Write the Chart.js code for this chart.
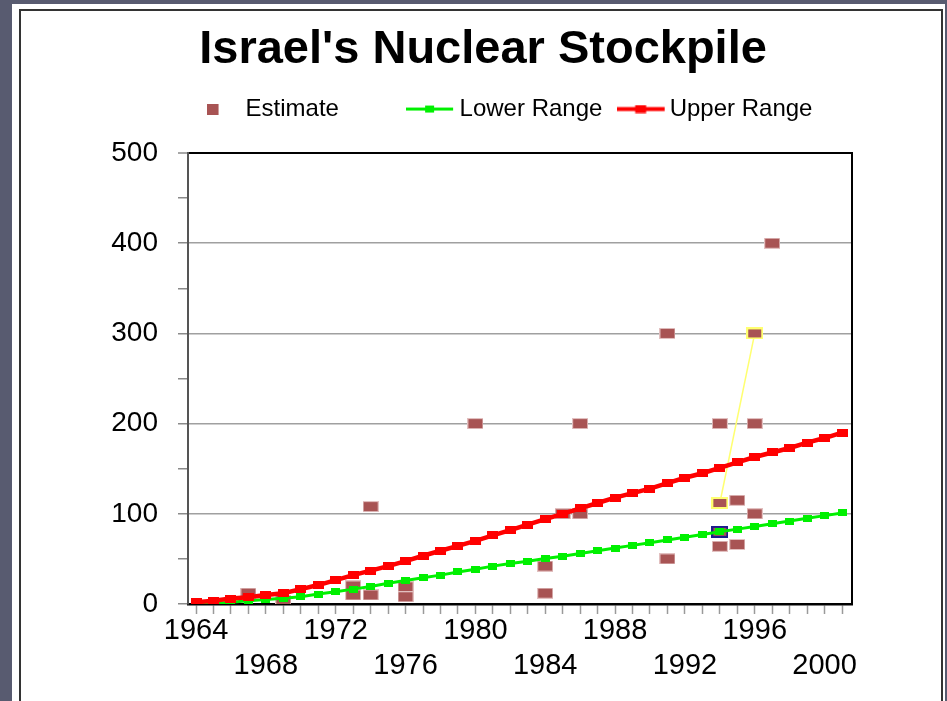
<!DOCTYPE html>
<html>
<head>
<meta charset="utf-8">
<title>Israel's Nuclear Stockpile</title>
<script src="https://cdn.jsdelivr.net/npm/chart.js@4.4.1/dist/chart.umd.min.js"></script>
<style>
  html, body { margin: 0; padding: 0; }
  body { width: 947px; height: 701px; background: #585b70; position: relative; overflow: hidden; }
  #panel { position: absolute; left: 12px; top: 4px; width: 933px; height: 710px; background: #fff; }
  #frame { position: absolute; left: 19px; top: 9px; width: 920px; height: 710px; border: 2px solid #333; border-bottom: none; }
  #c { position: absolute; left: 0; top: 0; }
</style>
</head>
<body>
<div id="panel"></div>
<div id="frame"></div>
<canvas id="c" width="947" height="701"></canvas>
<script>
const FONT = "'Liberation Sans', Arial, sans-serif";

// yearly range lines
const years = [1964, 1965, 1966, 1967, 1968, 1969, 1970, 1971, 1972, 1973, 1974, 1975, 1976,
  1977, 1978, 1979, 1980, 1981, 1982, 1983, 1984, 1985, 1986, 1987, 1988, 1989, 1990,
  1991, 1992, 1993, 1994, 1995, 1996, 1997, 1998, 1999, 2000, 2001];
const lowerRange = [0, 0.5, 2, 3.5, 5, 6.5, 8, 11, 13.5, 16.5, 19.5, 23, 26, 29, 32, 35.5,
  38.5, 42, 45, 47.5, 50.5, 53, 56, 59, 62, 65, 68, 71, 74, 77, 80, 83, 86, 89, 92, 95, 98, 101];
const upperRange = [2, 3.5, 6, 7.5, 10, 12, 16.5, 21, 26.5, 32, 37, 42, 47.5, 53.5, 59, 64.5,
  70, 76, 82, 88, 94, 100, 106, 112, 118, 123, 128, 134, 140, 145, 151, 157, 163, 168, 173, 179, 184, 190];

// individual estimates
const estimateYears = [1967, 1969, 1973, 1973, 1974, 1974, 1976, 1976, 1980, 1984, 1984, 1985,
  1986, 1986, 1991, 1991, 1994, 1994, 1994, 1994, 1995, 1995, 1996, 1996, 1996, 1997];
const estimateValues = [12, 4, 20, 10, 108, 10, 19, 8, 200, 42, 12, 100,
  100, 200, 300, 50, 200, 112, 80, 64, 115, 66, 300, 200, 100, 400];

// the two linked (selected) points
const selectedYears = [1994, 1996];
const selectedValues = [112, 300];
const boxedPoint = { x: 1994, y: 80 };

const xTickStart = 1964;

function rectImage(w, h, fill, stroke, strokeW, cw, offX) {
  const c = document.createElement("canvas");
  c.width = cw || w;
  c.height = h;
  const g = c.getContext("2d");
  const x0 = (c.width - w) / 2 + (offX || 0);
  g.fillStyle = fill;
  g.fillRect(x0, 0, w, h);
  if (stroke) {
    g.strokeStyle = stroke;
    g.lineWidth = strokeW;
    g.strokeRect(x0 + strokeW / 2, strokeW / 2, w - strokeW, h - strokeW);
  }
  return c;
}

function lineImage(w, h, color, lw, mw, mh, offX) {
  const c = document.createElement("canvas");
  c.width = w + Math.abs(offX) * 2;
  c.height = h;
  const g = c.getContext("2d");
  const x0 = (c.width - w) / 2 + offX;
  g.fillStyle = color;
  g.fillRect(x0, (h - lw) / 2, w, lw);
  g.fillRect(x0 + (w - mw) / 2, (h - mh) / 2, mw, mh);
  return c;
}

const estColor = "#a85454";
const estMark = rectImage(16, 11, estColor, "#e2c0c0", 1);
const estBlue = rectImage(17, 12, estColor, "#1c1c8c", 2);
const estYellow = rectImage(17, 12, estColor, "#ffff70", 2);
const redMark = rectImage(11, 8, "#ff0000");
const greenMark = rectImage(9, 7, "#00f000");

const legendEst = rectImage(13, 11, estColor, null, 0, 28, -8.5);
const legendLower = lineImage(47, 9, "#00f000", 3, 9, 7, -5);
const legendUpper = lineImage(48, 9, "#ff0000", 4, 11, 8, -4);

const lowerPts = years.map((y, i) => ({ x: y, y: lowerRange[i] }));
const upperPts = years.map((y, i) => ({ x: y, y: upperRange[i] }));
const estPts = estimateYears.map((y, i) => ({ x: y, y: estimateValues[i] }));
const selPts = selectedYears.map((y, i) => ({ x: y, y: selectedValues[i] }));

// empty layout box between legend and plot, for the gap under the legend
const spacerPlugin = {
  id: "spacer",
  beforeInit(chart) {
    const box = {
      position: "top",
      weight: 500,
      fullSize: false,
      options: {},
      left: 0, top: 0, right: 0, bottom: 0, width: 0, height: 0,
      update(maxWidth) { this.width = maxWidth; this.height = 22; },
      isHorizontal() { return true; },
      draw() {}
    };
    if (Chart.layouts) {
      Chart.layouts.addBox(chart, box);
    } else {
      box._layers = () => [{ z: 0, draw() {} }];
      chart.boxes.push(box);
    }
  }
};

const framePlugin = {
  id: "frame",
  afterDraw(chart) {
    const { ctx, chartArea: a } = chart;
    ctx.save();
    ctx.strokeStyle = "#000";
    ctx.lineWidth = 2;
    ctx.beginPath();
    ctx.moveTo(a.left + 8, a.top);
    ctx.lineTo(a.right, a.top);
    ctx.lineTo(a.right, a.bottom);
    ctx.stroke();
    ctx.restore();
  }
};

new Chart(document.getElementById("c"), {
  type: "line",
  data: {
    datasets: [
      {
        label: "Upper Range",
        data: upperPts,
        borderColor: "#ff0000",
        backgroundColor: "#ff0000",
        borderWidth: 4.5,
        pointStyle: redMark,
        tension: 0
      },
      {
        label: "Lower Range",
        data: lowerPts,
        borderColor: "#00f000",
        backgroundColor: "#00f000",
        borderWidth: 3,
        pointStyle: greenMark,
        tension: 0
      },
      {
        label: "Selected",
        data: selPts,
        borderColor: "#ffff70",
        borderWidth: 1.5,
        pointStyle: estYellow,
        tension: 0
      },
      {
        label: "Estimate",
        data: estPts,
        showLine: false,
        pointStyle: ctx => {
          const p = estPts[ctx.dataIndex];
          if (p && p.x === boxedPoint.x && p.y === boxedPoint.y) return estBlue;
          return estMark;
        }
      }
    ]
  },
  options: {
    responsive: false,
    animation: false,
    layout: { padding: { left: 88, right: 95, top: 0, bottom: 0 } },
    plugins: {
      tooltip: { enabled: false },
      title: {
        display: true,
        text: "  Israel's Nuclear Stockpile",
        color: "#000",
        font: { family: FONT, size: 47, weight: "bold", lineHeight: 1.32 },
        padding: { top: 19, bottom: 0 }
      },
      legend: {
        display: true,
        fullSize: false,
        labels: {
          usePointStyle: true,
          pointStyleWidth: 26,
          padding: 16,
          color: "#000",
          font: { family: FONT, size: 24 },
          generateLabels: () => [
            { text: "Estimate          ", pointStyle: legendEst, datasetIndex: 3, lineWidth: 0, strokeStyle: "transparent", fillStyle: estColor, hidden: false },
            { text: "Lower Range  ", pointStyle: legendLower, datasetIndex: 1, lineWidth: 0, strokeStyle: "transparent", fillStyle: "#00f000", hidden: false },
            { text: "Upper Range   ", pointStyle: legendUpper, datasetIndex: 0, lineWidth: 0, strokeStyle: "transparent", fillStyle: "#ff0000", hidden: false }
          ]
        }
      }
    },
    scales: {
      x: {
        type: "linear",
        min: 1963.54,
        max: 2001.57,
        afterFit: s => { s.height = 97; },
        border: { color: "#000", width: 2.5 },
        grid: { drawOnChartArea: false, tickColor: "#9a9a9a", tickLength: 10, tickWidth: 1.5 },
        ticks: {
          stepSize: 1,
          includeBounds: false,
          autoSkip: false,
          maxRotation: 0,
          minRotation: 0,
          padding: 0,
          color: "#000",
          font: { family: FONT, size: 29, lineHeight: 1.2 },
          callback: v => {
            const y = Math.round(v);
            if ((y - xTickStart) % 8 === 0) return [String(y), ""];
            if ((y - xTickStart) % 8 === 4) return ["", String(y)];
            return "";
          }
        }
      },
      y: {
        min: 0,
        max: 500,
        afterFit: s => { s.width = 100; },
        border: { color: "#555", width: 2 },
        grid: {
          color: ctx => {
            const v = ctx.tick.value;
            if (v === 500) return "#000";
            if (v > 0 && v % 100 === 0) return "#a0a0a0";
            return "rgba(0,0,0,0)";
          },
          lineWidth: ctx => (ctx.tick.value === 500 ? 2 : 1.5),
          tickColor: "#8a8a8a",
          tickLength: 10,
          tickWidth: 1.5
        },
        ticks: {
          stepSize: 50,
          autoSkip: false,
          padding: 20,
          color: "#000",
          font: { family: FONT, size: 28 },
          callback: v => (v % 100 === 0 ? String(v) : "")
        }
      }
    }
  },
  plugins: [spacerPlugin, framePlugin]
});
</script>
</body>
</html>
